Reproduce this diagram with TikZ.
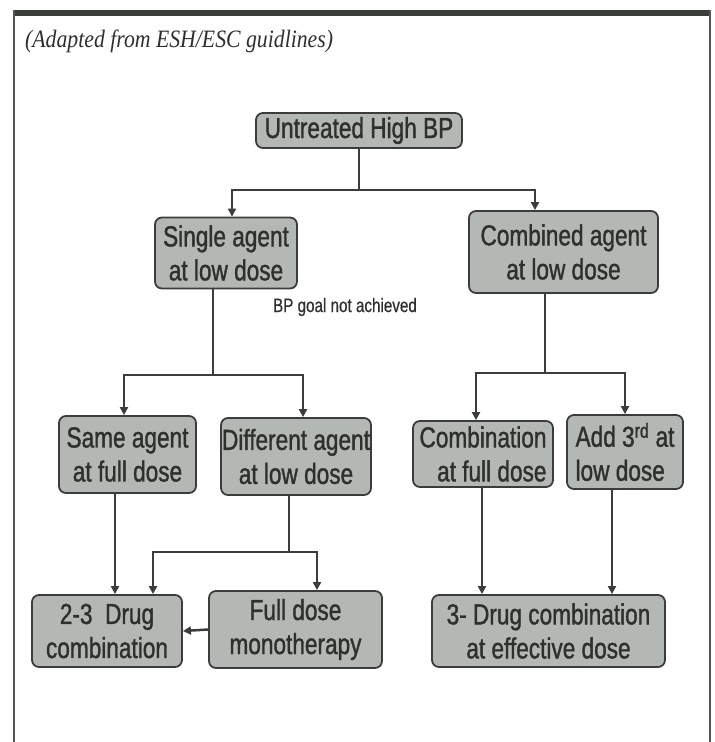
\documentclass[tikz,border=0pt]{standalone}
\usepackage{fontspec}
\usetikzlibrary{arrows.meta}
\newfontfamily\boxfont{Liberation Sans}[FakeStretch=0.78,FakeBold=1.2]
\newfontfamily\labelfont{Liberation Sans}[FakeStretch=0.78,FakeBold=0.6]
\newfontfamily\titlefont{Liberation Serif}[FakeStretch=0.87]
\definecolor{boxfill}{HTML}{B4B8B4}
\definecolor{boxline}{HTML}{3C3C3C}
\definecolor{boxtext}{HTML}{2E302E}
\definecolor{barcol}{HTML}{3A3D3A}
\definecolor{framecol}{HTML}{555555}
\tikzset{
  flowbox/.style={draw=boxline, line width=1.8pt, fill=boxfill, rounded corners=7pt,
    text=boxtext, inner sep=1pt, align=center,
    font=\boxfont\fontsize{29}{34}\selectfont},
  conn/.style={draw=boxline, line width=2.5pt},
  arr/.style={conn, -{Triangle[length=8pt,width=8pt]}},
}
\begin{document}
\begin{tikzpicture}[x=1pt,y=-1pt]
\useasboundingbox (0,0) rectangle (715,742);
% frame
\fill[barcol] (14,10) rectangle (711,16);
\draw[framecol, line width=1.8pt] (14,10) -- (14,742);
\draw[framecol, line width=1.8pt] (710,10) -- (710,742);
\node[anchor=base west, inner sep=0pt, text=boxtext, font=\titlefont\itshape\fontsize{25}{30}\selectfont] (title) at (25,47) {(Adapted from ESH/ESC guidlines)};
% boxes
\node[flowbox, minimum width=206pt, minimum height=35pt] (top) at (359,130.5) {Untreated High BP};
\node[flowbox, minimum width=142pt, minimum height=71pt] (single) at (226,253) {Single agent\\at low dose};
\node[flowbox, minimum width=189pt, minimum height=82pt] (combined) at (563.5,252) {Combined agent\\at low dose};
\node[flowbox, minimum width=137pt, minimum height=77pt] (same) at (127.5,454.5) {Same agent\\at full dose};
\node[flowbox, minimum width=140pt, minimum height=77pt] (diff) at (296,456.5) {Different agent\\at low dose};
\node[flowbox, minimum width=140pt, minimum height=66pt, align=right] (combo) at (483,454) {Combination\\at full dose};
\node[flowbox, minimum width=116pt, minimum height=74pt, align=left] (add3) at (625,452) {Add 3\textsuperscript{rd} at\\low dose};
\node[flowbox, minimum width=150pt, minimum height=72pt] (drug23) at (107,631) {2-3~ Drug\\combination};
\node[flowbox, minimum width=173pt, minimum height=77pt] (fullmono) at (295.5,629.5) {Full dose\\monotherapy};
\node[flowbox, minimum width=233pt, minimum height=72pt] (drug3) at (548.5,631) {3- Drug combination\\at effective dose};
% label
\node[text=boxtext, font=\labelfont\fontsize{19.5}{23}\selectfont] (goal) at (345,307) {BP goal not achieved};
% connectors
\coordinate (j1) at (359,190);
\coordinate (j2) at (213,375);
\coordinate (j3) at (545,373);
\coordinate (j4) at (289,552);
\draw[conn] (top.south) -- (j1);
\draw[arr] (j1) -| (232,0 |- single.north);
\draw[arr] (j1) -| (535,0 |- combined.north);
\draw[conn] (213,0 |- single.south) -- (j2);
\draw[arr] (j2) -| (124,0 |- same.north);
\draw[arr] (j2) -| (303,0 |- diff.north);
\draw[conn] (545,0 |- combined.south) -- (j3);
\draw[arr] (j3) -| (476,0 |- combo.north);
\draw[arr] (j3) -| (625,0 |- add3.north);
\draw[arr] (115,0 |- same.south) -- (115,0 |- drug23.north);
\draw[conn] (289,0 |- diff.south) -- (j4);
\draw[arr] (j4) -| (153,0 |- drug23.north);
\draw[arr] (j4) -| (317,0 |- fullmono.north);
\draw[arr] (fullmono.west) -- (drug23.east);
\draw[arr] (482,0 |- combo.south) -- (482,0 |- drug3.north);
\draw[arr] (612,0 |- add3.south) -- (612,0 |- drug3.north);
\end{tikzpicture}
\end{document}
